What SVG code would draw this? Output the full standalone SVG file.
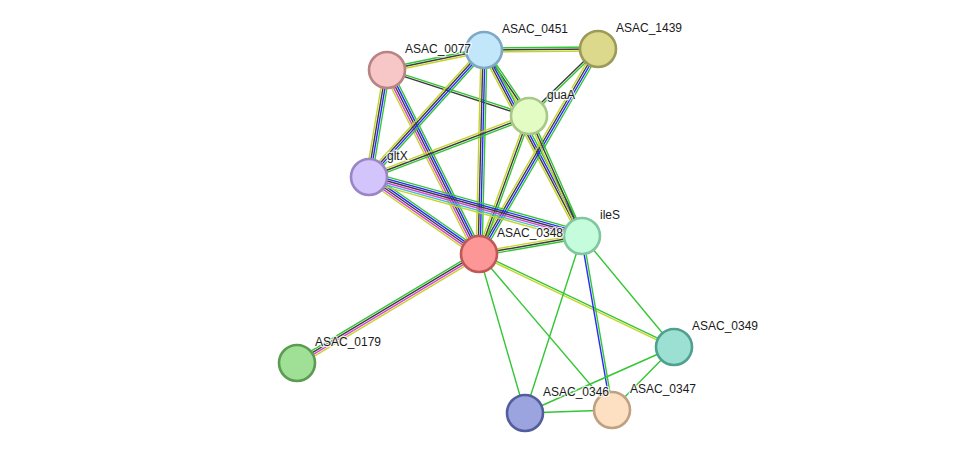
<svg xmlns="http://www.w3.org/2000/svg" width="975" height="459" viewBox="0 0 975 459">
<style>
line{stroke-width:1.4;fill:none}
.g{stroke:#33c633}.k{stroke:#3c3c3c}.y{stroke:#c6d42a}.b{stroke:#2828ff}.m{stroke:#d644d6}.c{stroke:#40bfd1}
.n circle{stroke-width:2.6}
text{font-family:"Liberation Sans",Arial,sans-serif;font-size:12px;fill:#1a1a1a;stroke:#fff;stroke-width:2.5;paint-order:stroke;stroke-opacity:0.8}
</style>
<rect width="975" height="459" fill="#fff"/>
<g id="connectors">
<g transform="translate(387 70) rotate(-11.65)"><line class="g" x2="99" y1="-2" y2="-2"/><line class="k" x2="99"/><line class="y" x2="99" y1="2" y2="2"/></g>
<g transform="translate(484 50) rotate(-0.5)"><line class="g" x2="114" y1="-2" y2="-2"/><line class="k" x2="114"/><line class="y" x2="114" y1="2" y2="2"/></g>
<g transform="translate(387 70) rotate(17.95)"><line class="g" x2="149.3" y1="-1" y2="-1"/><line class="k" x2="149.3" y1="1" y2="1"/></g>
<g transform="translate(387 70) rotate(99.55)"><line class="g" x2="108.5" y1="-3" y2="-3"/><line class="b" x2="108.5" y1="-1" y2="-1"/><line class="k" x2="108.5" y1="1" y2="1"/><line class="y" x2="108.5" y1="3" y2="3"/></g>
<g transform="translate(387 70) rotate(63.43)"><line class="g" x2="205.7" y1="-4" y2="-4"/><line class="b" x2="205.7" y1="-2" y2="-2"/><line class="k" x2="205.7"/><line class="m" x2="205.7" y1="2" y2="2"/><line class="y" x2="205.7" y1="4" y2="4"/></g>
<g transform="translate(484 50) rotate(132.16)"><line class="g" x2="171.3" y1="-3" y2="-3"/><line class="b" x2="171.3" y1="-1" y2="-1"/><line class="k" x2="171.3" y1="1" y2="1"/><line class="y" x2="171.3" y1="3" y2="3"/></g>
<g transform="translate(484 50) rotate(91.4)"><line class="g" x2="204" y1="-3" y2="-3"/><line class="b" x2="204" y1="-1" y2="-1"/><line class="k" x2="204" y1="1" y2="1"/><line class="y" x2="204" y1="3" y2="3"/></g>
<g transform="translate(484 50) rotate(55.71)"><line class="g" x2="79.9" y1="-2" y2="-2"/><line class="k" x2="79.9"/><line class="y" x2="79.9" y1="2" y2="2"/></g>
<g transform="translate(484 50) rotate(62.22)"><line class="g" x2="210.2" y1="-3" y2="-3"/><line class="b" x2="210.2" y1="-1" y2="-1"/><line class="k" x2="210.2" y1="1" y2="1"/><line class="y" x2="210.2" y1="3" y2="3"/></g>
<g transform="translate(598 49) rotate(135.84)"><line class="g" x2="96.2" y1="-1" y2="-1"/><line class="k" x2="96.2" y1="1" y2="1"/></g>
<g transform="translate(598 49) rotate(120.13)"><line class="g" x2="237" y1="-3" y2="-3"/><line class="b" x2="237" y1="-1" y2="-1"/><line class="k" x2="237" y1="1" y2="1"/><line class="y" x2="237" y1="3" y2="3"/></g>
<g transform="translate(529 116) rotate(159.13)"><line class="g" x2="171.2" y1="-2" y2="-2"/><line class="k" x2="171.2"/><line class="y" x2="171.2" y1="2" y2="2"/></g>
<g transform="translate(529 116) rotate(109.92)"><line class="g" x2="146.8" y1="-2" y2="-2"/><line class="k" x2="146.8"/><line class="y" x2="146.8" y1="2" y2="2"/></g>
<g transform="translate(529 116) rotate(66.17)"><line class="g" x2="131.2" y1="-2" y2="-2"/><line class="k" x2="131.2"/><line class="y" x2="131.2" y1="2" y2="2"/></g>
<g transform="translate(369 177) rotate(34.99)"><line class="g" x2="134.3" y1="-4" y2="-4"/><line class="b" x2="134.3" y1="-2" y2="-2"/><line class="k" x2="134.3"/><line class="m" x2="134.3" y1="2" y2="2"/><line class="y" x2="134.3" y1="4" y2="4"/></g>
<g transform="translate(369 177) rotate(15.48)"><line class="g" x2="221" y1="-5" y2="-5"/><line class="b" x2="221" y1="-3" y2="-3"/><line class="k" x2="221" y1="-1" y2="-1"/><line class="m" x2="221" y1="1" y2="1"/><line class="c" x2="221" y1="3" y2="3"/><line class="y" x2="221" y1="5" y2="5"/></g>
<g transform="translate(479 254) rotate(-9.91)"><line class="y" x2="104.6" y1="-2" y2="-2"/><line class="k" x2="104.6"/><line class="g" x2="104.6" y1="2" y2="2"/></g>
<g transform="translate(479 254) rotate(25.5)"><line class="g" x2="216" y1="-1" y2="-1"/><line class="y" x2="216" y1="1" y2="1"/></g>
<g transform="translate(479 254) rotate(149.09)"><line class="y" x2="212.1" y1="-3" y2="-3"/><line class="m" x2="212.1" y1="-1" y2="-1"/><line class="k" x2="212.1" y1="1" y2="1"/><line class="g" x2="212.1" y1="3" y2="3"/></g>
<g transform="translate(582 236) rotate(80.22)"><line class="g" x2="176.6" y1="-1" y2="-1"/><line class="b" x2="176.6" y1="1" y2="1"/></g>
<line class="g" x1="479" y1="254" x2="525" y2="413"/>
<line class="g" x1="479" y1="254" x2="612" y2="410"/>
<line class="g" x1="582" y1="236" x2="525" y2="413"/>
<line class="g" x1="582" y1="236" x2="674" y2="347"/>
<line class="g" x1="674" y1="347" x2="525" y2="413"/>
<line class="g" x1="674" y1="347" x2="612" y2="410"/>
<line class="g" x1="525" y1="413" x2="612" y2="410"/>
</g>
<g id="n0077" class="n"><circle cx="387" cy="70" r="18" fill="#f7c6c6" stroke="#b98383"/></g>
<g id="n0451" class="n"><circle cx="484" cy="50" r="18" fill="#c2e6fa" stroke="#7fa8c6"/></g>
<g id="n1439" class="n"><circle cx="598" cy="49" r="18" fill="#dcd98c" stroke="#9c9a58"/></g>
<g id="nguaA" class="n"><circle cx="529" cy="116" r="18" fill="#e2fcc4" stroke="#a8c88a"/></g>
<g id="ngltX" class="n"><circle cx="369" cy="177" r="18" fill="#d4c4fc" stroke="#9a85c6"/></g>
<g id="n0348" class="n"><circle cx="479" cy="254" r="18" fill="#fd9696" stroke="#c05858"/></g>
<g id="nileS" class="n"><circle cx="582" cy="236" r="18" fill="#c4fcdc" stroke="#80c6a0"/></g>
<g id="n0349" class="n"><circle cx="674" cy="347" r="18" fill="#9ce0d4" stroke="#50a090"/></g>
<g id="n0179" class="n"><circle cx="297" cy="363" r="18" fill="#a0e096" stroke="#5c9c52"/></g>
<g id="n0346" class="n"><circle cx="525" cy="413" r="18" fill="#9ca4e0" stroke="#525e9c"/></g>
<g id="n0347" class="n"><circle cx="612" cy="410" r="18" fill="#fde0c2" stroke="#c0a080"/></g>
<g id="labels">
<text x="405" y="53">ASAC_0077</text>
<text x="502" y="33">ASAC_0451</text>
<text x="616" y="32">ASAC_1439</text>
<text x="547" y="99">guaA</text>
<text x="387" y="160">gltX</text>
<text x="497" y="237">ASAC_0348</text>
<text x="600" y="219">ileS</text>
<text x="692" y="330">ASAC_0349</text>
<text x="315" y="346">ASAC_0179</text>
<text x="543" y="396">ASAC_0346</text>
<text x="630" y="393">ASAC_0347</text>
</g>
</svg>
